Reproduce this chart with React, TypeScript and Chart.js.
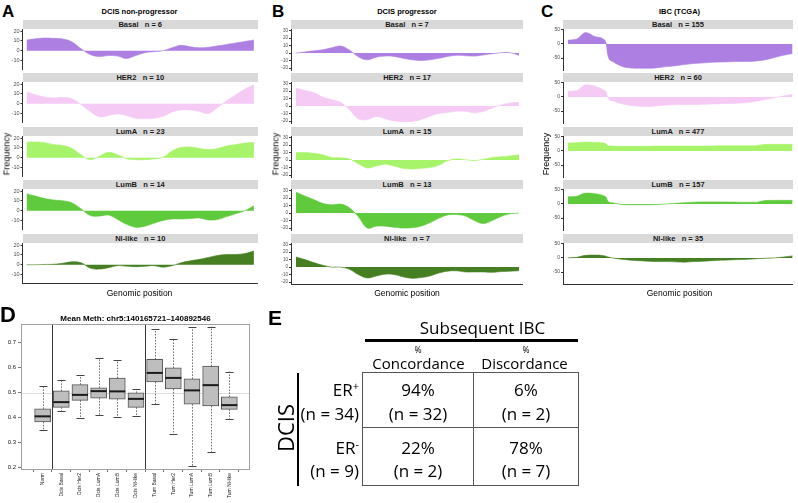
import React, { useEffect, useRef } from "react";
import { Chart, registerables } from "chart.js";

Chart.register(...registerables);

const FONT = "'Liberation Sans', Arial, Helvetica, sans-serif";
const TABLE_FONT = "'Open Sans', 'Noto Sans', sans-serif";

// ---------- DATA: panels A–C (copy-number frequency along genomic position, %) ----------
const genomicPosition = [0, 4, 8, 12, 16, 20, 24, 28, 32, 36, 40, 44, 48, 52, 56, 60, 64, 68, 72, 76, 80, 84, 88, 92, 96, 100];
const genomicPositionIBC = [0, 4, 8, 12, 16, 17, 18, 20, 24, 28, 32, 36, 40, 44, 48, 52, 56, 60, 64, 68, 72, 76, 80, 84, 88, 92, 96, 100];

const subtypeNames = ["Basal", "HER2", "LumA", "LumB", "Nl-like"];
const subtypeColors = ["#ad7fe3", "#f5caf5", "#a7f46a", "#5fcb3c", "#457f22"];

const nonProgressorN = [6, 10, 23, 14, 10];
const progressorN = [7, 17, 15, 13, 7];
const ibcN = [155, 60, 477, 157, 35];

const nonProgBasal = [11, 12.3, 13, 12.7, 12, 9, 2, -4, -6, -5, -5.5, -8, -5, -2, -1, 0, 3, 5.5, 4, 3, 3.5, 5, 6.5, 8, 9.5, 11];
const nonProgHER2 = [12, 9, 7, 6, 6.5, 5, -1, -8, -13.5, -12, -10.5, -12, -15, -15.3, -15, -13, -8.5, -6.5, -6.5, -8, -10, -4, 3, 9, 15, 19.5];
const nonProgLumA = [16, 16.2, 15.5, 13.5, 12.5, 9.5, 3, -2, 1.5, 5.5, 3, -1, -2, -2, -1.2, 0.5, 7, 10.5, 11, 9.5, 8.5, 9.5, 12, 13.5, 15, 16];
const nonProgLumB = [17.5, 15, 12.5, 11, 10.2, 8, 2, -5, -5.5, -4.5, -9, -14, -17, -16, -13, -10, -8.5, -8.5, -8, -7.5, -9.5, -9, -6, -3, 0, 5];
const nonProgNlLike = [0, 0, 0.3, 0.5, 1.5, 3, 2, -3.5, -4.5, -3, -1, -1.5, -2, -1.5, -1, -2.5, -1, 2, 4, 5.5, 7.5, 9.5, 10.5, 10.5, 11.5, 14];

const progBasal = [0, 1.5, 3, 4.5, 7, 9.5, 4, -5, -9, -5.5, -4, -4.5, -7, -9, -10, -9, -7, -4.5, -3, -3.5, -4, -2.5, -1, 0.5, 0.5, -3];
const progHER2 = [24, 21, 18, 12, 8.5, 5, -5, -17, -18, -14, -17, -20, -21, -20.5, -18, -13.5, -10, -8.5, -7, -7, -9, -7, -2.5, 1.5, 4, 5];
const progLumA = [10, 10, 9, 7, 3.5, 3, 1.5, -5, -10.5, -8, -5.5, -8, -11, -12, -11, -10, -7, -1, 1.5, 0.5, -0.5, 1, 3.5, 4.5, 5.5, 7];
const progLumB = [28, 23, 18, 13, 11, 12, 7, -5, -20, -17.5, -17.5, -19, -20, -19.5, -17.5, -13, -7, -2.5, -2, -4, -10, -14, -10, -4.5, -1, 0];
const progNlLike = [13.5, 10, 6, 2.5, 0, 0, -3, -10, -14.5, -12, -9.5, -10, -13, -15, -14, -12, -8, -5.5, -5, -6.5, -6.5, -6.5, -7, -6, -5.5, -5];

const ibcBasal = [13, 17, 40, 26, 16, 4, -45, -62, -79, -85, -86, -86, -84, -80, -77, -73, -69, -67, -65, -64, -63, -62, -62, -60, -56, -48, -40, -34];
const ibcHER2 = [20, 22, 43, 38, 24, 18, -6, -14, -24, -30, -33, -34, -31, -29, -28, -27, -27, -26, -25, -24, -23, -22, -20, -15, -9, -3, 3, 9];
const ibcLumA = [28, 29, 31, 30, 28, 25, 18, 17, 16, 16, 16, 16.5, 17, 17, 17, 17, 17, 17, 17.5, 18, 18, 18, 18, 18.5, 23, 23, 23, 23];
const ibcLumB = [25, 27, 38, 36, 29, 24, 8, 4, -2, -3, -3, -3, -2, 0, 2, 4, 6, 7, 7, 7, 6.5, 6, 5.5, 6, 12, 12.5, 12.5, 12.5];
const ibcNlLike = [0, 2, 9, 10, 8, 6, 3, 0, -5, -8, -10, -12, -13, -13, -14, -15, -13, -12, -10, -8, -7, -6, -5, -3, -1, 0, 3, 7];

const freqTicksNonProg = [-10, 0, 10, 20];
const freqTicksProg = [-20, -10, 0, 10, 20, 30];
const freqTicksIBC = [-50, 0, 50];

// ---------- DATA: panel D (mean methylation boxplot) ----------
const methGroups = ["Norm", "Dcis Basal", "Dcis Her2", "Dcis LumA", "Dcis LumB", "Dcis Nl-like", "Tum Basal", "Tum Her2", "Tum LumA", "Tum LumB", "Tum Nl-like"];
const methMin = [0.349, 0.425, 0.399, 0.41, 0.403, 0.406, 0.453, 0.336, 0.205, 0.263, 0.393];
const methQ1 = [0.383, 0.441, 0.469, 0.478, 0.474, 0.441, 0.543, 0.515, 0.454, 0.447, 0.433];
const methMedian = [0.405, 0.462, 0.491, 0.506, 0.505, 0.475, 0.579, 0.559, 0.509, 0.53, 0.45];
const methQ3 = [0.435, 0.507, 0.532, 0.519, 0.558, 0.499, 0.633, 0.599, 0.555, 0.606, 0.483];
const methMax = [0.526, 0.551, 0.57, 0.637, 0.63, 0.515, 0.755, 0.715, 0.761, 0.764, 0.584];
const methTicks = [0.2, 0.3, 0.4, 0.5, 0.6, 0.7];
const methReference = 0.5;
const methSeparators = [1.5, 6.5];

// ---------- DATA: panel E (table) ----------
const erStatus = ["+", "-"];
const erN = [34, 9];
const concordancePct = [94, 22];
const concordanceN = [32, 2];
const discordancePct = [6, 78];
const discordanceN = [2, 7];

// ---------- LAYOUT ----------
const stripTops = [20, 73, 127, 180, 234];
const STRIP_H = 9;
const PLOT_H = 41;
const PAD = 4;

type Column = {
  letter: string; letterX: number; title: string; titleX: number; freqX: number;
  counts: number[]; series: number[][]; xs: number[]; ticks: number[];
  yMin: number; yMax: number; xMin: number; xMax: number;
  canvasLeft: number; axisW: number; right: number; tickFont: number; monotone: boolean;
};

const columns: Column[] = [
  {
    letter: "A", letterX: 2, title: "DCIS non-progressor", titleX: 139.5, freqX: 6.5,
    counts: nonProgressorN, series: [nonProgBasal, nonProgHER2, nonProgLumA, nonProgLumB, nonProgNlLike],
    xs: genomicPosition, ticks: freqTicksNonProg, yMin: -19.5, yMax: 22, xMin: -1.8, xMax: 101.8,
    canvasLeft: 0, axisW: 22.5, right: 258, tickFont: 5.5, monotone: false,
  },
  {
    letter: "B", letterX: 272, title: "DCIS progressor", titleX: 407, freqX: 275.5,
    counts: progressorN, series: [progBasal, progHER2, progLumA, progLumB, progNlLike],
    xs: genomicPosition, ticks: freqTicksProg, yMin: -22.6, yMax: 32.2, xMin: -2.2, xMax: 101.8,
    canvasLeft: 269, axisW: 22, right: 523, tickFont: 4.6, monotone: false,
  },
  {
    letter: "C", letterX: 541, title: "IBC (TCGA)", titleX: 679.5, freqX: 546,
    counts: ibcN, series: [ibcBasal, ibcHER2, ibcLumA, ibcLumB, ibcNlLike],
    xs: genomicPositionIBC, ticks: freqTicksIBC, yMin: -92, yMax: 52.5, xMin: -2.1, xMax: 100.2,
    canvasLeft: 541, axisW: 22, right: 793, tickFont: 5, monotone: true,
  },
];

function AreaPanel(props: {
  col: Column; idx: number;
}) {
  const { col, idx } = props;
  const ref = useRef<HTMLCanvasElement>(null);
  const top = stripTops[idx] + STRIP_H - PAD;
  const width = col.right - col.canvasLeft;
  const height = PLOT_H + PAD * 2;
  const last = idx === subtypeNames.length - 1;
  useEffect(() => {
    const ys = col.series[idx];
    const chart = new Chart(ref.current!, {
      type: "line",
      data: {
        datasets: [
          {
            data: col.xs.map((x, i) => ({ x, y: ys[i] })),
            fill: "origin",
            backgroundColor: subtypeColors[idx],
            borderColor: subtypeColors[idx],
            borderWidth: 0.6,
            pointRadius: 0,
            tension: 0.4,
            cubicInterpolationMode: col.monotone ? "monotone" : "default",
          } as any,
        ],
      },
      options: {
        animation: false,
        responsive: false,
        devicePixelRatio: 1,
        layout: { padding: { top: PAD, bottom: PAD, left: 0, right: 0 } },
        plugins: { legend: { display: false }, tooltip: { enabled: false }, title: { display: false } },
        scales: {
          x: {
            type: "linear",
            min: col.xMin,
            max: col.xMax,
            display: last,
            ticks: { display: false },
            grid: { display: false, drawTicks: false },
            border: { display: true, color: "#333", width: 1 },
            afterFit: (s: any) => { s.height = 0; },
          },
          y: {
            type: "linear",
            min: col.yMin,
            max: col.yMax,
            afterBuildTicks: (s: any) => { s.ticks = col.ticks.map((v) => ({ value: v })); },
            afterFit: (s: any) => { s.width = col.axisW; },
            ticks: { autoSkip: false, font: { size: col.tickFont, family: FONT }, color: "#4d4d4d", padding: 1 },
            grid: { drawOnChartArea: false, tickLength: 2, color: "#333" },
            border: { display: true, color: "#333", width: 1 },
          },
        },
      },
    });
    return () => chart.destroy();
  }, []);
  return (
    <canvas
      ref={ref}
      width={width}
      height={height}
      style={{ position: "absolute", left: col.canvasLeft, top, width, height }}
    />
  );
}

const boxPlugin = {
  id: "boxExtras",
  beforeDatasetsDraw(chart: any) {
    const { ctx, chartArea: a, scales } = chart;
    const x = scales.x, y = scales.y;
    ctx.save();
    ctx.lineWidth = 1;
    ctx.strokeStyle = "#dcdcdc";
    const yr = Math.round(y.getPixelForValue(methReference)) + 0.5;
    ctx.beginPath(); ctx.moveTo(a.left, yr); ctx.lineTo(a.right, yr); ctx.stroke();
    ctx.strokeStyle = "#3a3a3a";
    methSeparators.forEach((s) => {
      const px = Math.round(x.getPixelForValue(s)) + 0.5;
      ctx.beginPath(); ctx.moveTo(px, a.top); ctx.lineTo(px, a.bottom); ctx.stroke();
    });
    ctx.restore();
  },
  afterDatasetsDraw(chart: any) {
    const { ctx, chartArea: a, scales } = chart;
    const y = scales.y;
    const meta = chart.getDatasetMeta(0);
    ctx.save();
    meta.data.forEach((bar: any, i: number) => {
      const cx = Math.round(bar.x) + 0.5;
      const w = bar.width;
      const pMax = y.getPixelForValue(methMax[i]);
      const pMin = y.getPixelForValue(methMin[i]);
      const pQ1 = y.getPixelForValue(methQ1[i]);
      const pQ3 = y.getPixelForValue(methQ3[i]);
      const pMed = y.getPixelForValue(methMedian[i]);
      ctx.strokeStyle = "#444";
      ctx.lineWidth = 0.8;
      ctx.setLineDash([1.5, 1.5]);
      ctx.beginPath(); ctx.moveTo(cx, pQ3); ctx.lineTo(cx, pMax); ctx.moveTo(cx, pQ1); ctx.lineTo(cx, pMin); ctx.stroke();
      ctx.setLineDash([]);
      ctx.lineWidth = 1;
      ctx.beginPath(); ctx.moveTo(cx - 4, Math.round(pMax) + 0.5); ctx.lineTo(cx + 4, Math.round(pMax) + 0.5);
      ctx.moveTo(cx - 4, Math.round(pMin) + 0.5); ctx.lineTo(cx + 4, Math.round(pMin) + 0.5); ctx.stroke();
      ctx.strokeStyle = "#1a1a1a";
      ctx.lineWidth = 2;
      ctx.beginPath(); ctx.moveTo(bar.x - w / 2, pMed); ctx.lineTo(bar.x + w / 2, pMed); ctx.stroke();
    });
    ctx.strokeStyle = "#a0a0a0";
    ctx.lineWidth = 1;
    ctx.strokeRect(a.left + 0.5, a.top + 0.5, a.right - a.left - 1, a.bottom - a.top - 1);
    ctx.restore();
  },
};

function BoxPanel() {
  const ref = useRef<HTMLCanvasElement>(null);
  useEffect(() => {
    const chart = new Chart(ref.current!, {
      type: "bar",
      data: {
        datasets: [
          {
            data: methGroups.map((_, i) => ({ x: i + 1, y: [methQ1[i], methQ3[i]] })),
            backgroundColor: "#bebebe",
            borderColor: "#555",
            borderWidth: 1,
            borderSkipped: false,
            barThickness: 16,
          } as any,
        ],
      },
      options: {
        animation: false,
        responsive: false,
        devicePixelRatio: 1,
        layout: { padding: { top: 19, right: 12, left: 0, bottom: 0 } },
        plugins: { legend: { display: false }, tooltip: { enabled: false } },
        scales: {
          x: {
            type: "linear",
            min: 0.4,
            max: 11.55,
            afterBuildTicks: (s: any) => { s.ticks = methGroups.map((_, i) => ({ value: i + 1 })); },
            afterFit: (s: any) => { s.height = 33; },
            ticks: {
              autoSkip: false,
              minRotation: 90,
              maxRotation: 90,
              callback: (v: any) => methGroups[Math.round(Number(v)) - 1],
              font: { size: 5, family: FONT },
              color: "#222",
              padding: 1,
            },
            grid: { drawOnChartArea: false, tickLength: 2, color: "#777" },
            border: { display: false },
          },
          y: {
            type: "linear",
            min: 0.19,
            max: 0.775,
            afterBuildTicks: (s: any) => { s.ticks = methTicks.map((v) => ({ value: v })); },
            afterFit: (s: any) => { s.width = 21; },
            ticks: {
              callback: (v: any) => Number(v).toFixed(1),
              font: { size: 6, family: FONT },
              color: "#222",
              padding: 2,
            },
            grid: { drawOnChartArea: false, tickLength: 3, color: "#777" },
            border: { display: false },
          },
        },
      },
      plugins: [boxPlugin],
    });
    return () => chart.destroy();
  }, []);
  return <canvas ref={ref} width={262} height={198} style={{ position: "absolute", left: 0, top: 305, width: 262, height: 198 }} />;
}

function T(props: { x: number; y: number; size: number; bold?: boolean; anchor?: "c" | "l" | "r"; rotate?: boolean; family?: string; children: any; color?: string }) {
  const { x, y, size, bold, anchor = "c", rotate, family = FONT, children, color = "#000" } = props;
  const tx = anchor === "c" ? "-50%" : anchor === "r" ? "-100%" : "0";
  return (
    <div
      style={{
        position: "absolute",
        left: x,
        top: y,
        transform: `translate(${tx}, -50%)${rotate ? " rotate(-90deg)" : ""}`,
        transformOrigin: rotate ? "50% 50%" : undefined,
        font: `${bold ? "bold " : ""}${size}px ${family}`,
        lineHeight: 1,
        whiteSpace: "pre",
        color,
      }}
    >
      {children}
    </div>
  );
}

function Letter(props: { x: number; y: number; size: number; children: any }) {
  return (
    <div style={{ position: "absolute", left: props.x, top: props.y, font: `bold ${props.size}px ${FONT}`, lineHeight: 1, color: "#000" }}>
      {props.children}
    </div>
  );
}

function TablePanel() {
  const colCenters = [418, 526];
  const rowLines = [[389, 413], [447, 470]];
  return (
    <>
      <Letter x={268} y={307} size={21}>E</Letter>
      <T x={482.5} y={327} size={17} family={TABLE_FONT}>Subsequent IBC</T>
      <div style={{ position: "absolute", left: 365, top: 339, width: 213, height: 2.6, background: "#000" }} />
      <T x={colCenters[0]} y={350} size={8.5} family={TABLE_FONT}>%</T>
      <T x={colCenters[1]} y={350} size={8.5} family={TABLE_FONT}>%</T>
      <T x={418.5} y={363} size={15} family={TABLE_FONT}>Concordance</T>
      <T x={524.5} y={363} size={15} family={TABLE_FONT}>Discordance</T>
      <div style={{ position: "absolute", left: 362, top: 372, width: 217, height: 114, border: "1px solid #555", boxSizing: "border-box" }} />
      <div style={{ position: "absolute", left: 472.5, top: 372, width: 1, height: 114, background: "#555" }} />
      <div style={{ position: "absolute", left: 362, top: 426.5, width: 217, height: 1, background: "#555" }} />
      {erStatus.map((s, r) => (
        <React.Fragment key={s}>
          <T x={359} y={rowLines[r][0]} size={17} anchor="r" family={TABLE_FONT}>
            ER<sup style={{ fontSize: 11, verticalAlign: "6px", lineHeight: 0 }}>{s}</sup>
          </T>
          <T x={359} y={rowLines[r][1]} size={17} anchor="r" family={TABLE_FONT}>{`(n = ${erN[r]})`}</T>
          <T x={colCenters[0]} y={rowLines[r][0]} size={17} family={TABLE_FONT}>{`${concordancePct[r]}%`}</T>
          <T x={colCenters[0]} y={rowLines[r][1]} size={17} family={TABLE_FONT}>{`(n = ${concordanceN[r]})`}</T>
          <T x={colCenters[1]} y={rowLines[r][0]} size={17} family={TABLE_FONT}>{`${discordancePct[r]}%`}</T>
          <T x={colCenters[1]} y={rowLines[r][1]} size={17} family={TABLE_FONT}>{`(n = ${discordanceN[r]})`}</T>
        </React.Fragment>
      ))}
      <T x={285} y={428} size={22} rotate family={TABLE_FONT}>DCIS</T>
      <div style={{ position: "absolute", left: 296.5, top: 373, width: 2.7, height: 113, background: "#000" }} />
    </>
  );
}

export default function App() {
  return (
    <div style={{ position: "fixed", left: 0, top: 0, width: 798, height: 503, background: "#fff", overflow: "hidden" }}>
      {columns.map((col) => (
        <React.Fragment key={col.letter}>
          <Letter x={col.letterX} y={3} size={17}>{col.letter}</Letter>
          <T x={col.titleX} y={11.5} size={7.5} bold>{col.title}</T>
          {subtypeNames.map((name, i) => (
            <React.Fragment key={name}>
              <div
                style={{
                  position: "absolute",
                  left: col.canvasLeft + col.axisW,
                  top: stripTops[i],
                  width: col.right - col.canvasLeft - col.axisW,
                  height: STRIP_H,
                  background: "#d9d9d9",
                  font: `bold 7.5px ${FONT}`,
                  lineHeight: `${STRIP_H}px`,
                  textAlign: "center",
                  color: "#1a1a1a",
                  whiteSpace: "pre",
                }}
              >
                {`${name}   n = ${col.counts[i]}`}
              </div>
              <AreaPanel col={col} idx={i} />
            </React.Fragment>
          ))}
          <T x={col.freqX} y={154} size={9} rotate>Frequency</T>
          <T x={col.titleX} y={293} size={8.5}>Genomic position</T>
        </React.Fragment>
      ))}
      <Letter x={0} y={304} size={22}>D</Letter>
      <T x={135.5} y={319} size={8} bold>Mean Meth: chr5:140165721–140892546</T>
      <BoxPanel />
      <TablePanel />
    </div>
  );
}
